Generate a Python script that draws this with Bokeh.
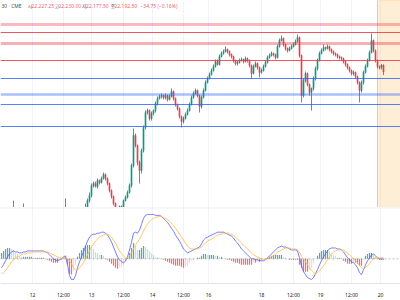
from bokeh.embed import file_html
from bokeh.layouts import column
from bokeh.models import BoxAnnotation, ColumnDataSource, FixedTicker, Grid, Label, Range1d, Span
from bokeh.plotting import figure
from bokeh.resources import INLINE

# ---- 30-minute bars (index 0 = oldest) ----
first_open = 21445.0
closes = [
    21450, 21460, 21465, 21475, 21485, 21490, 21505, 21495, 21490, 21485,
    21495, 21500, 21490, 21485, 21495, 21490, 21480, 21485, 21475, 21480,
    21470, 21475, 21465, 21460, 21465, 21455, 21450, 21455, 21445, 21450,
    21460, 21475, 21500, 21475, 21375, 21275, 21240, 21275, 21325, 21375,
    21425, 21475, 21510, 21550, 21575, 21625, 21635, 21620, 21650, 21640,
    21660, 21680, 21660, 21635, 21600, 21570, 21535, 21510, 21490, 21520,
    21510, 21550, 21565, 21590, 21625, 21725, 21875, 21825, 21740, 21700,
    21800, 21915, 21990, 22000, 21960, 21985, 22000, 22035, 22060, 22070,
    22075, 22065, 22075, 22055, 22070, 22095, 22060, 22030, 22010, 21970,
    21945, 21960, 21980, 22000, 22030, 22065, 22085, 22100, 22075, 22020,
    22065, 22100, 22140, 22160, 22180, 22200, 22220, 22245, 22230, 22270,
    22285, 22295, 22305, 22295, 22280, 22270, 22250, 22235, 22240, 22250,
    22255, 22245, 22260, 22250, 22225, 22185, 22220, 22235, 22215, 22190,
    22200, 22220, 22240, 22265, 22275, 22285, 22280, 22265, 22320, 22350,
    22360, 22330, 22310, 22300, 22310, 22320, 22330, 22345, 22365, 22275,
    22075, 22150, 22185, 22130, 22090, 22110, 22160, 22210, 22250, 22285,
    22300, 22315, 22310, 22320, 22305, 22295, 22285, 22280, 22270, 22265,
    22260, 22245, 22230, 22215, 22200, 22185, 22190, 22170, 22140, 22100,
    22140, 22190, 22220, 22250, 22290, 22350, 22300, 22250, 22220, 22215,
    22227.25, 22192.5,
]
# wick lengths beyond the body, in points
wick_up = [
    5, 5, 5, 5, 5, 10, 45, 5, 5, 5,
    5, 35, 5, 5, 5, 5, 5, 5, 5, 5,
    5, 5, 5, 5, 5, 5, 5, 5, 5, 5,
    5, 5, 60, 10, 5, 5, 10, 5, 5, 5,
    5, 5, 25, 10, 15, 10, 10, 10, 10, 5,
    10, 10, 5, 5, 5, 5, 5, 5, 5, 5,
    5, 5, 10, 10, 10, 10, 35, 10, 5, 10,
    10, 10, 10, 10, 5, 10, 5, 10, 10, 10,
    10, 5, 10, 5, 10, 15, 5, 5, 5, 5,
    5, 10, 10, 10, 10, 10, 10, 10, 5, 5,
    10, 10, 10, 10, 10, 10, 10, 10, 10, 10,
    10, 10, 15, 5, 5, 5, 5, 5, 10, 10,
    10, 5, 10, 5, 5, 5, 10, 10, 5, 5,
    10, 10, 10, 10, 10, 10, 5, 5, 10, 10,
    15, 5, 5, 5, 10, 10, 10, 10, 15, 5,
    5, 10, 10, 5, 5, 5, 10, 10, 10, 10,
    10, 15, 5, 10, 5, 5, 5, 5, 5, 5,
    5, 5, 5, 5, 5, 5, 10, 5, 5, 5,
    10, 10, 10, 10, 10, 35, 5, 5, 5, 5,
    5, 2.75,
]
wick_dn = [
    5, 5, 5, 10, 5, 5, 5, 5, 5, 5,
    5, 5, 5, 5, 5, 5, 5, 5, 5, 5,
    5, 5, 5, 5, 5, 5, 5, 5, 5, 5,
    5, 5, 5, 10, 15, 15, 15, 10, 10, 10,
    10, 10, 10, 10, 10, 10, 10, 5, 10, 10,
    5, 5, 10, 10, 10, 10, 10, 10, 10, 10,
    5, 10, 5, 5, 5, 10, 10, 10, 15, 65,
    15, 10, 10, 10, 10, 10, 10, 10, 10, 5,
    10, 10, 10, 10, 5, 5, 10, 10, 10, 10,
    30, 10, 5, 5, 5, 5, 5, 5, 10, 30,
    10, 5, 5, 5, 5, 5, 5, 5, 5, 5,
    5, 5, 5, 10, 10, 10, 10, 10, 10, 5,
    5, 10, 5, 10, 10, 25, 5, 5, 10, 25,
    5, 5, 5, 5, 5, 5, 10, 10, 5, 5,
    5, 10, 10, 10, 5, 5, 5, 5, 5, 10,
    35, 10, 10, 10, 15, 90, 10, 10, 10, 5,
    5, 5, 10, 5, 10, 10, 10, 10, 10, 10,
    10, 10, 10, 10, 10, 10, 10, 10, 10, 60,
    10, 10, 5, 5, 5, 5, 10, 10, 10, 10,
    10, 15,
]

# ---- MACD pane ----
macd = [
    -18, -12, -4, 4, 10, 14, 16, 14, 14, 12,
    12, 14, 14, 16, 16, 16, 16, 16, 16, 16,
    16, 16, 14, 12, 8, 4, 0, -2, -4, -2,
    0, 4, 6, -12, -34, -42, -42, -34, -18, -6,
    4, 14, 26, 36, 44, 48, 50, 50, 52, 52,
    54, 54, 52, 48, 42, 34, 24, 14, 4, -2,
    -6, -8, -4, 4, 18, 34, 52, 54, 52, 58,
    70, 82, 88, 90, 90, 90, 90, 88, 88, 88,
    86, 82, 78, 74, 68, 62, 56, 48, 42, 36,
    28, 20, 16, 12, 14, 16, 18, 20, 22, 24,
    30, 38, 42, 44, 46, 48, 50, 52, 54, 54,
    54, 54, 52, 50, 48, 46, 42, 36, 32, 26,
    20, 16, 12, 8, 4, 0, 0, -2, -2, -4,
    -4, -4, -2, 2, 6, 10, 14, 18, 22, 24,
    26, 24, 24, 22, 20, 18, 18, 18, 16, 2,
    -14, -26, -32, -38, -40, -42, -38, -30, -22, -12,
    -4, 4, 10, 16, 20, 22, 22, 22, 20, 20,
    18, 14, 8, 2, -2, -6, -8, -12, -18, -28,
    -32, -22, -12, -4, 2, 8, 10, 6, 2, 0,
    0, 0,
]
signal = [
    -30, -28, -24, -18, -12, -6, -2, 2, 4, 6,
    8, 10, 10, 12, 12, 12, 14, 14, 14, 14,
    14, 14, 14, 14, 12, 10, 8, 6, 4, 2,
    2, 2, 2, 0, -4, -10, -18, -22, -22, -18,
    -14, -8, 0, 8, 16, 24, 30, 36, 40, 44,
    46, 48, 50, 50, 48, 44, 38, 32, 24, 16,
    10, 6, 2, 2, 6, 12, 20, 28, 34, 40,
    48, 56, 64, 70, 75, 79, 82, 84, 85, 86,
    86, 84, 82, 80, 76, 72, 68, 62, 56, 50,
    44, 38, 32, 26, 22, 20, 20, 20, 20, 22,
    24, 28, 32, 36, 38, 40, 42, 46, 48, 50,
    50, 52, 52, 52, 50, 50, 48, 44, 40, 36,
    32, 28, 24, 20, 16, 12, 8, 6, 4, 2,
    0, -2, -2, 0, 2, 4, 6, 10, 14, 16,
    18, 20, 22, 22, 22, 20, 20, 20, 18, 14,
    4, 0, -6, -12, -18, -24, -28, -30, -28, -24,
    -20, -14, -8, -2, 4, 10, 14, 16, 18, 18,
    18, 18, 14, 12, 8, 4, 0, -4, -8, -14,
    -18, -20, -18, -14, -10, -4, 0, 2, 2, 2,
    2, 2,
]

# ---- time scale ----
tick_index = [15.5, 31.0, 45.0, 61.0, 75.5, 91.0, 103.5, 130.0, 146.0, 159.5, 175.0, 189.5]
tick_labels = ["12", "12:00", "13", "12:00", "14", "12:00", "16", "18", "12:00", "19", "12:00", "20"]

# ---- horizontal levels ----
resistance = [22430, 22390, 22335, 22250]
support = [22160, 22080, 22030, 21920]
session_start = 188

n = len(closes)
assert all(len(a) == n for a in (wick_up, wick_dn, macd, signal))

UP, DOWN = "#089981", "#f23645"
opens = [first_open] + closes[:-1]
xs = list(range(n))
price_src = ColumnDataSource(dict(
    x=xs,
    high=[max(o, c) + u for o, c, u in zip(opens, closes, wick_up)],
    low=[min(o, c) - d for o, c, d in zip(opens, closes, wick_dn)],
    top=[max(o, c) for o, c in zip(opens, closes)],
    bottom=[min(o, c) for o, c in zip(opens, closes)],
    color=[UP if c >= o else DOWN for o, c in zip(opens, closes)],
))

hist = [m - s for m, s in zip(macd, signal)]
hist_color = []
prev = 0
for h in hist:
    if h >= 0:
        hist_color.append("#26a69a" if h >= prev else "#b2dfdb")
    else:
        hist_color.append("#ffcdd2" if h > prev else "#ff5252")
    prev = h
macd_src = ColumnDataSource(dict(x=xs, macd=macd, signal=signal, hist=hist, color=hist_color))

x_range = Range1d(-0.5, 199.5)
GRID = "#f0f3fa"

# ---- price pane ----
p1 = figure(width=400, height=207, x_range=x_range, y_range=Range1d(21515, 22550),
            toolbar_location=None, output_backend="svg",
            x_axis_location=None, y_axis_location=None, min_border=0)
p1.outline_line_color = None
p1.grid.visible = False
p1.add_layout(Grid(dimension=0, ticker=FixedTicker(ticks=tick_index), grid_line_color=GRID))

p1.add_layout(BoxAnnotation(left=session_start, fill_color="#ff9800", fill_alpha=0.16,
                            line_color="#ff9800", line_alpha=0.5, line_width=1, level="underlay"))

p1.segment(x0="x", y0="low", x1="x", y1="high", line_color="color", line_width=1,
           line_alpha=0.85, source=price_src)
p1.vbar(x="x", width=0.6, top="top", bottom="bottom", fill_color="color", fill_alpha=0.85,
        line_color="color", line_alpha=0.85, line_width=0.5, source=price_src)

res_style = [(3, 0.35), (1, 0.85), (3, 0.4), (1, 0.85)]
sup_style = [(1, 0.8), (2.5, 0.4), (1, 0.8), (1, 0.8)]
for lvl, (w, a) in zip(resistance, res_style):
    p1.add_layout(Span(location=lvl, dimension="width", line_color="#f23645", line_width=w, line_alpha=a))
for lvl, (w, a) in zip(support, sup_style):
    p1.add_layout(Span(location=lvl, dimension="width", line_color="#2962ff", line_width=w, line_alpha=a))

# legend line with the last bar's values
o_last, c_last = opens[-1], closes[-1]
h_last = max(o_last, c_last) + wick_up[-1]
l_last = min(o_last, c_last) - wick_dn[-1]
chg = c_last - opens[-1]
pct = chg / opens[-1] * 100


def fmt(v):
    return f"{v:,.2f}".replace("-", "\u2212")


val_color = DOWN if chg < 0 else UP
header = [
    ("30 \u00b7 CME", 1, "#131722", "Noto Sans"),
    ("시", 27, "#131722", "Noto Sans CJK KR"), (fmt(o_last), 31, val_color, "Noto Sans"),
    ("고", 54, "#131722", "Noto Sans CJK KR"), (fmt(h_last), 58, val_color, "Noto Sans"),
    ("저", 81.5, "#131722", "Noto Sans CJK KR"), (fmt(l_last), 85.5, val_color, "Noto Sans"),
    ("종", 110, "#131722", "Noto Sans CJK KR"), (fmt(c_last), 114, val_color, "Noto Sans"),
    (f"{fmt(chg)} ({fmt(pct)}%)", 140, val_color, "Noto Sans"),
]
for txt, xpos, col, fnt in header:
    p1.add_layout(Label(x=xpos, y=202, x_units="screen", y_units="screen", text=txt,
                        text_font=fnt, text_font_size="5px", text_color=col,
                        text_alpha=0.85, text_align="left", text_baseline="middle"))

# ---- MACD pane ----
p2 = figure(width=400, height=93, x_range=x_range, y_range=Range1d(-50, 104),
            toolbar_location=None, output_backend="svg",
            y_axis_location=None, min_border=0, min_border_bottom=16)
p2.outline_line_color = None
p2.grid.visible = False
p2.add_layout(Grid(dimension=0, ticker=FixedTicker(ticks=tick_index), grid_line_color=GRID))
p2.add_layout(Span(location=103.4, dimension="width", line_color="#e0e3eb", line_width=1))
p2.add_layout(Span(location=0, dimension="width", line_color="#787b86", line_alpha=0.5,
                   line_dash="2 2", line_width=1))

p2.vbar(x="x", width=0.6, top="hist", bottom=0, fill_color="color", fill_alpha=0.85,
        line_color=None, source=macd_src)
p2.line(x="x", y="macd", line_color="#4a55f5", line_width=1, line_alpha=0.75, source=macd_src)
p2.line(x="x", y="signal", line_color="#ffbe5c", line_width=1, line_alpha=0.9, source=macd_src)

ax = p2.xaxis[0]
ax.ticker = FixedTicker(ticks=tick_index)
ax.major_label_overrides = {t: lab for t, lab in zip(tick_index, tick_labels)}
ax.major_tick_line_color = None
ax.minor_tick_line_color = None
ax.major_tick_out = 0
ax.major_tick_in = 0
ax.axis_line_color = "#e0e3eb"
ax.major_label_standoff = 8
ax.major_label_text_font = "Noto Sans"
ax.major_label_text_font_size = "5px"
ax.major_label_text_color = "#131722"

layout = column(p1, p2)
open("out.html", "w").write(file_html(layout, INLINE))
